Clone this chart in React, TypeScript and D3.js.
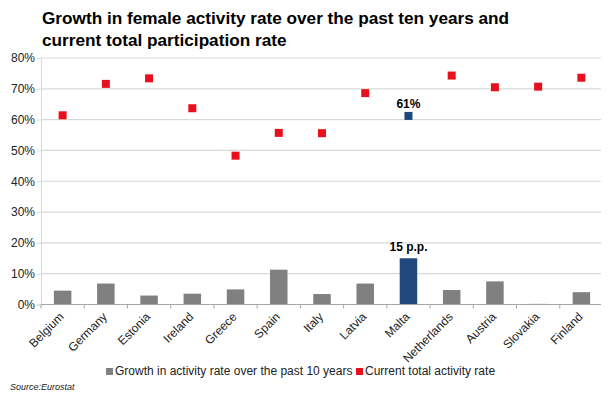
import { useEffect, useRef } from "react";
import * as d3 from "d3";

const countries = [
  "Belgium", "Germany", "Estonia", "Ireland", "Greece", "Spain", "Italy",
  "Latvia", "Malta", "Netherlands", "Austria", "Slovakia", "Finland",
];
// growth in activity rate over the past 10 years (p.p.)
const growth = [4.5, 6.8, 2.9, 3.5, 4.9, 11.3, 3.4, 6.8, 15.0, 4.7, 7.5, 0.2, 4.0];
// current total activity rate (%)
const current = [61.4, 71.6, 73.4, 63.7, 48.3, 55.7, 55.6, 68.6, 61.2, 74.3, 70.5, 70.7, 73.6];
const yTicks = [0, 10, 20, 30, 40, 50, 60, 70, 80];
const highlight = "Malta";

function App() {
  const svgRef = useRef<SVGSVGElement | null>(null);

  useEffect(() => {
    if (!svgRef.current) return;
    const width = 609;
    const height = 400;
    const m = { top: 58, right: 6, bottom: 95.5, left: 41 };

    const svg = d3.select(svgRef.current);
    svg.selectAll("g.chart").remove();
    const g = svg.append("g").attr("class", "chart");

    const x = d3.scaleBand<string>()
      .domain(countries)
      .range([m.left, width - m.right]);
    const y = d3.scaleLinear().domain([0, 80]).range([height - m.bottom, m.top]);

    const font = "Arial, 'Liberation Sans', sans-serif";

    // outer frame, drawn as four edges
    const fx0 = 4, fy0 = 4, fx1 = 603, fy1 = 395;
    g.append("path")
      .attr("d", `M${fx0},${fy0}H${fx1}V${fy1}H${fx0}Z`)
      .attr("fill", "none").attr("stroke", "black").attr("stroke-width", 2);

    // title
    const title = g.append("text")
      .attr("font-family", font).attr("font-weight", "bold")
      .attr("font-size", 17.2).attr("fill", "black");
    title.append("tspan").attr("x", 42).attr("y", 24)
      .text("Growth in female activity rate over the past ten years and");
    title.append("tspan").attr("x", 42).attr("y", 46)
      .text("current total participation rate");

    // gridlines
    g.append("g").selectAll("line").data(yTicks.slice(1)).join("line")
      .attr("x1", m.left).attr("x2", width - m.right)
      .attr("y1", (d) => y(d)).attr("y2", (d) => y(d))
      .attr("stroke", "#d9d9d9").attr("stroke-width", 1.2);

    // y axis
    const yAxis = g.append("g").attr("transform", `translate(${m.left},0)`)
      .call(d3.axisLeft(y).tickValues(yTicks).tickSize(4).tickFormat((d) => `${d}%`));
    yAxis.select(".domain").attr("stroke", "#d9d9d9");
    yAxis.selectAll(".tick line").attr("stroke", "#d9d9d9");
    yAxis.selectAll("text").attr("font-family", font).attr("font-size", 12)
      .attr("fill", "#222").attr("x", -6);

    // bars
    const barW = 17.5;
    g.append("g").selectAll("rect").data(countries).join("rect")
      .attr("x", (d) => x(d)! + x.bandwidth() / 2 - barW / 2)
      .attr("y", (_, i) => y(growth[i]))
      .attr("width", barW)
      .attr("height", (_, i) => y(0) - y(growth[i]))
      .attr("fill", (d) => (d === highlight ? "#1f497d" : "#808080"));

    // x axis
    const x0 = y(0);
    g.append("line").attr("x1", m.left).attr("x2", width - m.right)
      .attr("y1", x0).attr("y2", x0).attr("stroke", "#a6a6a6").attr("stroke-width", 1.2);
    g.append("g").selectAll("line").data(d3.range(countries.length + 1)).join("line")
      .attr("x1", (i) => m.left + i * x.step()).attr("x2", (i) => m.left + i * x.step())
      .attr("y1", x0).attr("y2", x0 + 4).attr("stroke", "#a6a6a6");
    g.append("g").selectAll("text").data(countries).join("text")
      .attr("transform", (d) => `translate(${x(d)! + x.bandwidth() / 2 + 2},${x0 + 13}) rotate(-45)`)
      .attr("text-anchor", "end")
      .attr("font-family", font).attr("font-size", 12).attr("fill", "#222")
      .text((d) => d);

    // markers
    const ms = 8;
    g.append("g").selectAll("rect").data(countries).join("rect")
      .attr("x", (d) => x(d)! + x.bandwidth() / 2 - ms / 2)
      .attr("y", (_, i) => y(current[i]) - ms / 2)
      .attr("width", ms).attr("height", ms)
      .attr("fill", (d) => (d === highlight ? "#1f497d" : "#e8101c"));

    // data labels
    const hi = countries.indexOf(highlight);
    const hx = x(highlight)! + x.bandwidth() / 2;
    g.append("text").attr("x", hx).attr("y", y(current[hi]) - 8)
      .attr("text-anchor", "middle").attr("font-family", font)
      .attr("font-weight", "bold").attr("font-size", 12).text(`${Math.round(current[hi])}%`);
    g.append("text").attr("x", hx).attr("y", y(growth[hi]) - 7)
      .attr("text-anchor", "middle").attr("font-family", font)
      .attr("font-weight", "bold").attr("font-size", 12).text(`${Math.round(growth[hi])} p.p.`);

    // legend
    const legend = [
      { label: "Growth in activity rate over the past 10 years", color: "#808080", x: 106 },
      { label: "Current total activity rate", color: "#e8101c", x: 356 },
    ];
    const lg = g.append("g").selectAll("g").data(legend).join("g")
      .attr("transform", (d) => `translate(${d.x},375)`);
    lg.append("rect").attr("x", 0).attr("y", -7).attr("width", 7).attr("height", 7)
      .attr("fill", (d) => d.color);
    lg.append("text").attr("x", 9).attr("y", 0)
      .attr("font-family", font).attr("font-size", 12).attr("fill", "#222")
      .text((d) => d.label);

    g.append("text").attr("x", 10).attr("y", 390)
      .attr("font-family", font).attr("font-style", "italic").attr("font-size", 9)
      .attr("fill", "#222").text("Source:Eurostat");
  }, []);

  return (
    <div style={{ margin: -8, position: "relative", width: 609, height: 400 }}>
      <svg ref={svgRef} width={609} height={400} style={{ display: "block", background: "white" }} />
      <div
        style={{
          position: "absolute", left: 3, top: 3, width: 598, height: 389,
          border: "2px solid black", pointerEvents: "none",
        }}
      />
    </div>
  );
}

export default App;
